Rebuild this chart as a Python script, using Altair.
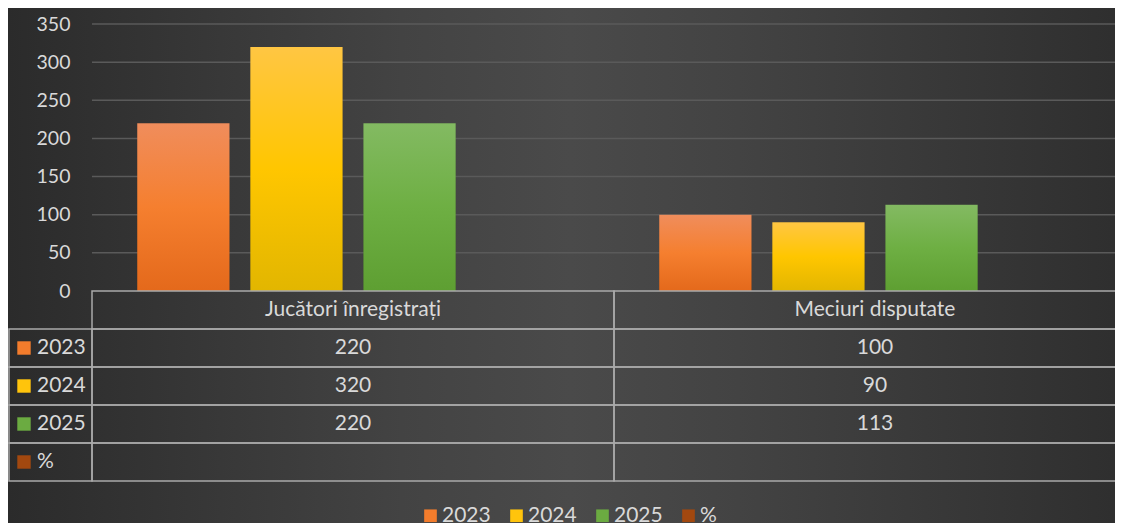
import altair as alt
import pandas as pd

# ---- data ----
categories = ["Jucători înregistrați", "Meciuri disputate"]
series = ["2023", "2024", "2025", "%"]
values_2023 = [220, 100]
values_2024 = [320, 90]
values_2025 = [220, 113]
values_pct = [None, None]
y_ticks = [0, 50, 100, 150, 200, 250, 300, 350]

series_values = {"2023": values_2023, "2024": values_2024, "2025": values_2025, "%": values_pct}

# ---- styles ----
FONT = "Lato"
TXT = "#d9d9d9"
LINE = "#a9a9a9"
FS = 21
flat_colors = ["#F37C2C", "#FFC40C", "#6BAB41", "#A2480F"]
grad_stops = {
    "2023": ["#F08D5C", "#F57F2F", "#E4691B"],
    "2024": ["#FFC643", "#FFC600", "#E2B600"],
    "2025": ["#83BA62", "#6EAF43", "#5E9F32"],
}


def vgrad(cols):
    return alt.LinearGradient(
        gradient="linear", x1=0, y1=0, x2=0, y2=1,
        stops=[alt.GradientStop(offset=0, color=cols[0]),
               alt.GradientStop(offset=0.5, color=cols[1]),
               alt.GradientStop(offset=1, color=cols[2])])


bg_grad = alt.LinearGradient(
    gradient="linear", x1=0, y1=0, x2=1, y2=0,
    stops=[alt.GradientStop(offset=0, color="#2b2b2b"),
           alt.GradientStop(offset=0.35, color="#434343"),
           alt.GradientStop(offset=0.5, color="#4a4a4a"),
           alt.GradientStop(offset=0.65, color="#434343"),
           alt.GradientStop(offset=1, color="#2e2e2e")])

# ---- tables ----
bar_rows, cell_rows = [], []
for s in series:
    for c, v in zip(categories, series_values[s]):
        cell_rows.append({"cat": c, "row": s, "label": "" if v is None else str(v)})
        if v is not None:
            bar_rows.append({"cat": c, "series": s, "value": v})
bars_df = pd.DataFrame(bar_rows)
cells_df = pd.DataFrame(cell_rows)
header_df = pd.DataFrame({"cat": categories, "row": ["header"] * len(categories), "label": categories})
grid_df = pd.concat([header_df[["cat", "row"]], cells_df[["cat", "row"]]], ignore_index=True)
rows_df = pd.DataFrame({"row": series})
ticks_df = pd.DataFrame({"tick": y_ticks[1:]})
one_df = pd.DataFrame({"k": [0]})

row_domain = ["header"] + series

x_enc = alt.X("cat:N", scale=alt.Scale(domain=categories, range=[0, 1044],
                                       paddingInner=0, paddingOuter=0), axis=None)
xoff_enc = alt.XOffset("series:N", scale=alt.Scale(domain=series, paddingInner=0.184, paddingOuter=0.4))
y_scale = alt.Scale(domain=[0, 350], range=[267, 0], nice=False, zero=True)
y_axis = alt.Axis(orient="left", values=y_ticks, grid=False, zindex=1,
                  domain=False, ticks=False, labelPadding=22, labelFontSize=19.5,
                  labelColor=TXT, labelFont=FONT, title=None)
row_scale = alt.Scale(domain=row_domain, range=[267, 457], paddingInner=0, paddingOuter=0)

# background
background = alt.Chart(one_df).mark_rect(color=bg_grad).encode(
    x=alt.value(-84), x2=alt.value(1040), y=alt.value(-16), y2=alt.value(510))

gridlines = alt.Chart(ticks_df).mark_rule(color="#5a5a5a", strokeWidth=1.5).encode(
    y=alt.Y("tick:Q", scale=y_scale, axis=y_axis))

shadow = alt.Chart(bars_df).mark_bar(color="#000000", opacity=0.18, xOffset=4).encode(
    x=x_enc, xOffset=xoff_enc,
    y=alt.Y("value:Q", scale=y_scale, axis=y_axis))

bar_layers = []
for s in ["2023", "2024", "2025"]:
    bar_layers.append(
        alt.Chart(bars_df).transform_filter(alt.datum.series == s)
        .mark_bar(color=vgrad(grad_stops[s]))
        .encode(x=x_enc, xOffset=xoff_enc,
                y=alt.Y("value:Q", scale=y_scale, axis=y_axis)))

bars_group = alt.layer(background, gridlines, shadow, *bar_layers)

# data table
cells_grid = alt.Chart(grid_df).mark_rect(fill=None, stroke=LINE, strokeWidth=1.5).encode(
    x=x_enc, y=alt.Y("row:N", scale=row_scale, axis=None))

left_cells = alt.Chart(rows_df).mark_rect(fill=None, stroke=LINE, strokeWidth=1.5).encode(
    x=alt.value(-83), x2=alt.value(0), y=alt.Y("row:N", scale=row_scale, axis=None))

cell_text = alt.Chart(cells_df).mark_text(font=FONT, fontSize=FS, color=TXT, baseline="middle").encode(
    x=x_enc, y=alt.Y("row:N", scale=row_scale, axis=None), text="label:N")

header_text = alt.Chart(header_df).mark_text(font=FONT, fontSize=FS, color=TXT, baseline="middle").encode(
    x=x_enc, y=alt.Y("row:N", scale=row_scale, axis=None), text="label:N")

legend = alt.Legend(orient="none", direction="horizontal", legendX=328, legendY=481,
                    title=None, symbolType="square", symbolSize=160, symbolStrokeWidth=0,
                    symbolOpacity=1, labelFontSize=FS, labelColor=TXT, labelFont=FONT,
                    labelOffset=1, columnPadding=15)

left_squares = alt.Chart(rows_df).mark_square(size=180, opacity=1).encode(
    x=alt.value(-68), y=alt.Y("row:N", scale=row_scale, axis=None),
    color=alt.Color("row:N", scale=alt.Scale(domain=series, range=flat_colors), legend=legend))

left_text = alt.Chart(rows_df).mark_text(font=FONT, fontSize=FS, color=TXT, align="left",
                                         baseline="middle").encode(
    x=alt.value(-55), y=alt.Y("row:N", scale=row_scale, axis=None), text="row:N")

table_group = alt.layer(cells_grid, left_cells, cell_text, header_text, left_squares, left_text)

chart = (
    alt.layer(bars_group, table_group)
    .resolve_scale(y="independent")
    .properties(width=1023, height=500,
                padding={"left": 84, "top": 16, "right": 0, "bottom": 0},
                autosize=alt.AutoSizeParams(type="none"),
                background="#3c3c3c")
    .configure_view(stroke=None)
)

chart.save("out.html", embed_options={"renderer": "svg", "actions": False})
